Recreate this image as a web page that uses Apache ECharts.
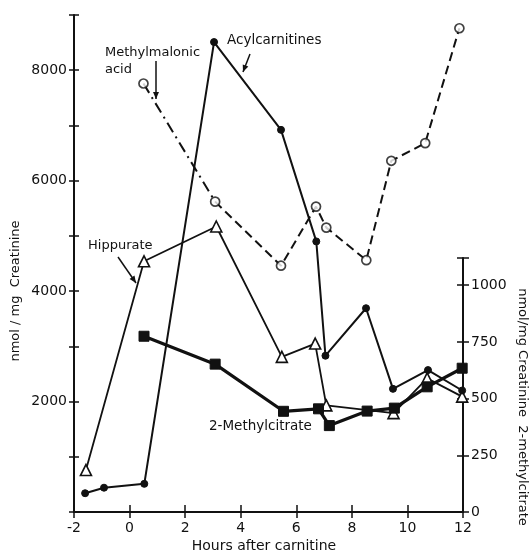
<!DOCTYPE html>
<html><head><meta charset="utf-8">
<script src="https://cdn.jsdelivr.net/npm/echarts@6/dist/echarts.min.js"></script>
<style>html,body{margin:0;padding:0;background:#fff}#c{width:531px;height:555px}</style>
</head><body><div id="c"></div>
<script>
// Hours after carnitine
const acylHours = [-1.6, -0.92, 0.53, 3.04, 5.45, 6.72, 7.05, 8.51, 9.48, 10.74, 11.97];
const acylValues = [340, 440, 510, 8510, 6920, 4900, 2830, 3690, 2230, 2570, 2200];

const mmaHours = [0.50, 3.08, 5.45, 6.71, 7.08, 8.52, 9.42, 10.64, 11.87];
const mmaValues = [7760, 5620, 4460, 5530, 5150, 4560, 6360, 6680, 8760];

const hipHours = [-1.57, 0.52, 3.12, 5.48, 6.68, 7.08, 9.50, 10.71, 11.97];
const hipValues = [760, 4540, 5170, 2810, 3050, 1930, 1790, 2420, 2090];

const mcHours = [0.52, 3.08, 5.54, 6.80, 7.19, 8.55, 9.53, 10.71, 11.97];
const mcValues = [775, 652, 444, 455, 381, 445, 458, 552, 634];

const pairs = (xs, ys) => xs.map((x, i) => [x, ys[i]]);
const INK = '#111';
const FONT = 'DejaVu Sans';

function arrow(x1, y1, x2, y2) {
  const dx = x2 - x1, dy = y2 - y1, L = Math.hypot(dx, dy);
  const ux = dx / L, uy = dy / L, px = -uy, py = ux;
  const h = 7, w = 3;
  return [
    { type: 'line', shape: { x1, y1, x2, y2 }, style: { stroke: INK, lineWidth: 1.5 } },
    { type: 'polygon', shape: { points: [[x2, y2], [x2 - h * ux + w * px, y2 - h * uy + w * py], [x2 - h * ux - w * px, y2 - h * uy - w * py]] }, style: { fill: INK } }
  ];
}
function label(x, y, t, size, extra) {
  return Object.assign({ type: 'text', x, y, style: Object.assign({ text: t, font: size + 'px "' + FONT + '"', fill: INK, textVerticalAlign: 'middle' }, (extra && extra.style) || {}) }, extra && extra.rotation !== undefined ? { rotation: extra.rotation } : {});
}

const chart = echarts.init(document.getElementById('c'), null, { renderer: 'canvas' });
const axisLbl = { color: INK, fontFamily: FONT, fontSize: 14 };
const tickStyle = { color: INK, width: 1.5 };
chart.setOption({
  animation: false,
  backgroundColor: '#fff',
  grid: [
    { left: 74, right: 68, top: 15, bottom: 43 },
    { left: 74, right: 68, top: 258, bottom: 43 }
  ],
  xAxis: [
    { type: 'value', gridIndex: 0, min: -2, max: 12, interval: 2, splitLine: { show: false },
      axisLine: { onZero: false, lineStyle: { color: INK, width: 2 } }, axisTick: { length: 6, lineStyle: tickStyle },
      axisLabel: Object.assign({ margin: 9 }, axisLbl) },
    { type: 'value', gridIndex: 1, min: -2, max: 12, interval: 2, splitLine: { show: false },
      axisLine: { show: false, onZero: false }, axisTick: { inside: true, length: 7, lineStyle: tickStyle },
      axisLabel: { show: false } }
  ],
  yAxis: [
    { type: 'value', gridIndex: 0, position: 'left', min: 0, max: 9000, interval: 1000, splitLine: { show: false },
      axisLine: { show: true, onZero: false, lineStyle: { color: INK, width: 2 } }, axisTick: { length: 5, lineStyle: tickStyle },
      axisLabel: Object.assign({ margin: 7, formatter: v => (v > 0 && v % 2000 === 0) ? String(v) : '' }, axisLbl) },
    { type: 'value', gridIndex: 0, position: 'left', min: 0, max: 9000, interval: 1000, splitLine: { show: false },
      axisLine: { show: false, onZero: false }, axisTick: { inside: true, length: 5, lineStyle: tickStyle },
      axisLabel: { show: false } },
    { type: 'value', gridIndex: 1, position: 'right', min: 0, max: 1120, interval: 250, splitLine: { show: false },
      axisLine: { show: true, onZero: false, lineStyle: { color: INK, width: 2 } }, axisTick: { length: 6, lineStyle: tickStyle },
      axisLabel: Object.assign({ margin: 8, formatter: v => (v % 250 === 0) ? String(v) : '' }, axisLbl) },
    { type: 'value', gridIndex: 1, position: 'right', min: 0, max: 1120, interval: 250, splitLine: { show: false },
      axisLine: { show: false, onZero: false }, axisTick: { inside: true, length: 6, lineStyle: tickStyle },
      axisLabel: { show: false } }
  ],
  series: [
    { name: 'Hippurate', type: 'line', xAxisIndex: 0, yAxisIndex: 0, data: pairs(hipHours, hipValues),
      symbol: 'triangle', symbolSize: 11, lineStyle: { color: INK, width: 1.8 },
      itemStyle: { color: '#fff', borderColor: INK, borderWidth: 1.6 }, z: 3 },
    { name: 'Methylmalonic acid (dash-dot)', type: 'line', xAxisIndex: 0, yAxisIndex: 0,
      data: pairs(mmaHours.slice(0, 2), mmaValues.slice(0, 2)),
      symbol: 'none', lineStyle: { color: INK, width: 2, type: [11, 5, 2, 5] }, z: 2 },
    { name: 'Methylmalonic acid', type: 'line', xAxisIndex: 0, yAxisIndex: 0,
      data: pairs(mmaHours.slice(1), mmaValues.slice(1)),
      symbol: 'none', lineStyle: { color: INK, width: 2, type: [9, 5] }, z: 2 },
    { name: 'Methylmalonic acid markers', type: 'scatter', xAxisIndex: 0, yAxisIndex: 0,
      data: pairs(mmaHours, mmaValues), symbol: 'circle', symbolSize: 9,
      itemStyle: { color: '#fff', borderColor: INK, borderWidth: 1.7 }, z: 5 },
    { name: 'Acylcarnitines', type: 'line', xAxisIndex: 0, yAxisIndex: 0, data: pairs(acylHours, acylValues),
      symbol: 'circle', symbolSize: 7, lineStyle: { color: INK, width: 2 },
      itemStyle: { color: INK, borderColor: INK }, z: 4 },
    { name: '2-Methylcitrate', type: 'line', xAxisIndex: 1, yAxisIndex: 2, data: pairs(mcHours, mcValues),
      symbol: 'rect', symbolSize: 10, lineStyle: { color: INK, width: 3.2 },
      itemStyle: { color: INK, borderColor: INK }, z: 4 }
  ],
  graphic: [
    label(16, 291, 'nmol / mg  Creatinine', 13, { rotation: Math.PI / 2, style: { textAlign: 'center' } }),
    label(522, 407, 'nmol/mg Creatinine  2-methylcitrate', 13, { rotation: -Math.PI / 2, style: { textAlign: 'center' } }),
    label(264, 546, 'Hours after carnitine', 14, { style: { textAlign: 'center' } }),
    label(105, 53, 'Methylmalonic', 13),
    label(105, 70, 'acid', 13),
    label(227, 40, 'Acylcarnitines', 13.5),
    label(88, 246, 'Hippurate', 13),
    label(209, 426, '2-Methylcitrate', 13.5)
  ].concat(arrow(156, 61, 156, 99), arrow(250, 54, 243, 72), arrow(118, 257, 136, 283))
});
</script></body></html>
